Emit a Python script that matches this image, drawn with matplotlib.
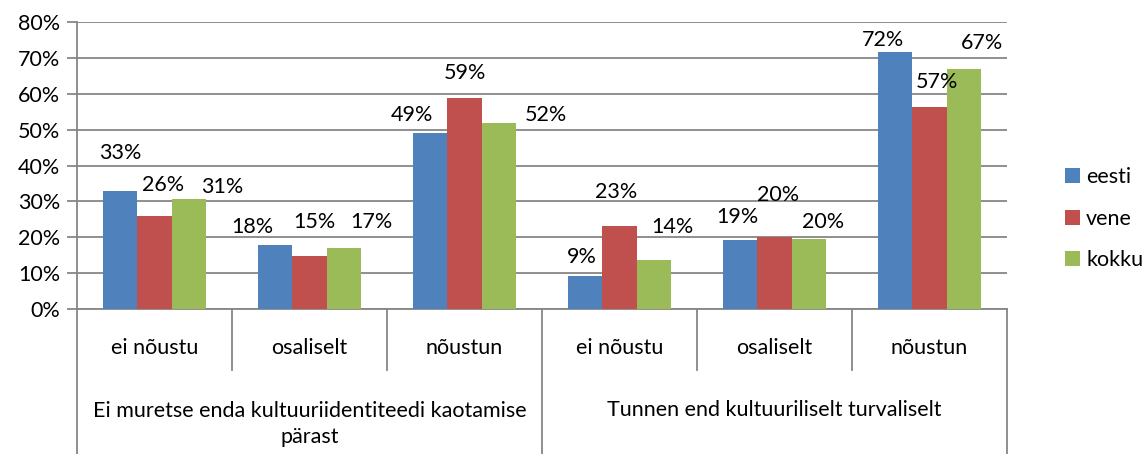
import matplotlib.pyplot as plt
import numpy as np

plt.rcParams['font.family'] = ['Lato', 'DejaVu Sans']

# data
answers = ['ei nõustu', 'osaliselt', 'nõustun', 'ei nõustu', 'osaliselt', 'nõustun']
statements = ['Ei muretse enda kultuuriidentiteedi kaotamise\npärast',
              'Tunnen end kultuuriliselt turvaliselt']
series = ['eesti', 'vene', 'kokku']
eesti = [32.9, 17.8, 49.1, 9.2, 19.2, 71.6]
vene = [25.9, 14.8, 58.8, 23.1, 20.1, 56.3]
kokku = [30.7, 17.0, 51.8, 13.7, 19.5, 66.9]
labels_eesti = ['33%', '18%', '49%', '9%', '19%', '72%']
labels_vene = ['26%', '15%', '59%', '23%', '20%', '57%']
labels_kokku = ['31%', '17%', '52%', '14%', '20%', '67%']

# label positions as Excel left them (dx in category units from bar centre, y in %)
lab_dx = [[0.0, 0.055, 0.215], [-0.151, 0.029, 0.177], [-0.119, 0.003, 0.306],
          [-0.022, -0.023, 0.119], [-0.022, 0.023, 0.093], [-0.080, 0.048, 0.119]]
lab_y = [[43.5, 34.6, 34.0], [22.9, 24.3, 24.3], [54.1, 65.8, 54.1],
         [14.5, 32.6, 22.9], [25.6, 31.8, 24.3], [75.0, 63.3, 74.1]]

colors = ['#4F81BD', '#C0504D', '#9BBB59']
grid_c = '#868686'
fs = 15.5

fig = plt.figure(figsize=(11.43, 4.54), dpi=100)
ax = fig.add_axes([77 / 1143, 1 - 309 / 454, 930 / 1143, 287 / 454])

x = np.arange(len(answers)) + 0.5
w = 0.22
vals = [eesti, vene, kokku]
labs = [labels_eesti, labels_vene, labels_kokku]
for k in range(3):
    ax.bar(x + (k - 1) * w, vals[k], width=w, color=colors[k], label=series[k], zorder=3)
    for i in range(len(answers)):
        ax.text(x[i] + (k - 1) * w + lab_dx[i][k], lab_y[i][k], labs[k][i],
                ha='center', va='center', fontsize=fs, zorder=4)

ax.set_xlim(0, 6)
ax.set_ylim(0, 80)
ax.set_yticks(range(0, 81, 10))
ax.set_yticklabels([f'{v}%' for v in range(0, 81, 10)], fontsize=fs)
ax.yaxis.grid(True, color=grid_c, linewidth=1.3, zorder=0)
ax.set_xticks([])
ax.tick_params(axis='y', length=7, width=1.3, color=grid_c, pad=5)
for s in ['top', 'right']:
    ax.spines[s].set_visible(False)
ax.spines['left'].set_color(grid_c)
ax.spines['left'].set_linewidth(1.3)
ax.spines['bottom'].set_color(grid_c)
ax.spines['bottom'].set_linewidth(1.3)

# multi-level category axis
tr = ax.get_xaxis_transform()
px = 1 / 287  # one pixel in axes-y units
for b in [1, 2, 4, 5]:
    ax.plot([b, b], [0, -61 * px], color=grid_c, lw=1.3, transform=tr, clip_on=False)
for b in [0, 3, 6]:
    ax.plot([b, b], [0, -150 * px], color=grid_c, lw=1.3, transform=tr, clip_on=False)
for i, a in enumerate(answers):
    ax.text(x[i], -39 * px, a, transform=tr, ha='center', va='center', fontsize=fs)
ax.text(1.5, -115 * px, statements[0], transform=tr, ha='center', va='center',
        fontsize=fs, linespacing=1.4)
ax.text(4.5, -101 * px, statements[1], transform=tr, ha='center', va='center',
        fontsize=fs)

ax.legend(loc='center left', bbox_to_anchor=(1.062, 0.315), frameon=False,
          fontsize=fs, handlelength=0.7, handleheight=0.7, handletextpad=0.3,
          labelspacing=1.0, borderpad=0, borderaxespad=0)

fig.savefig('out.png', dpi=100)
